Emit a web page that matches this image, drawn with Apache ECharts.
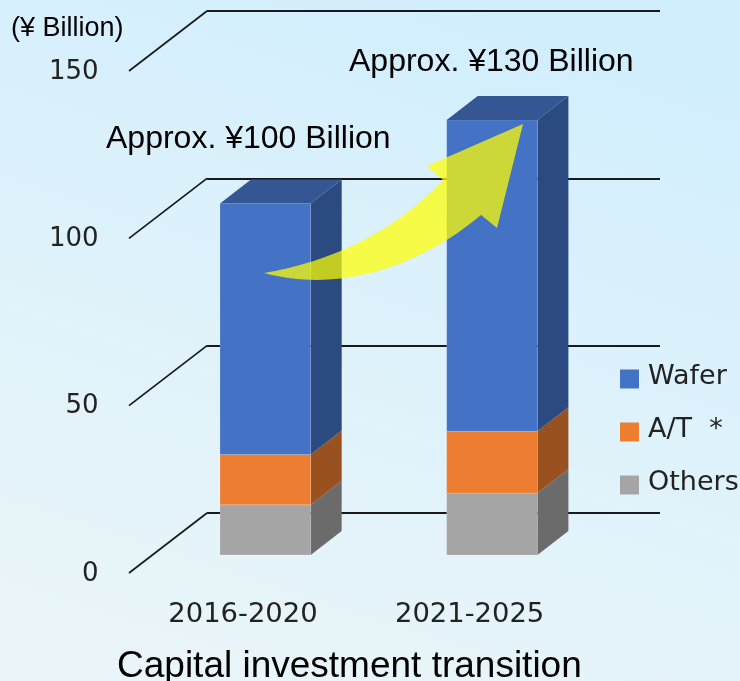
<!DOCTYPE html>
<html>
<head>
<meta charset="utf-8">
<style>
html, body { margin: 0; padding: 0; }
#chart { width: 740px; height: 681px; }
</style>
<script src="https://cdn.jsdelivr.net/npm/echarts@6/dist/echarts.min.js"></script>
</head>
<body>
<div id="chart"></div>
<script>
// values, in billions of yen
const categories = ['2016-2020', '2021-2025'];
const others = [15, 18.5];
const assembly = [15, 18.5];
const wafer = [75, 93];
const yTicks = [0, 50, 100, 150];
const legendNames = ['Wafer', 'A/T  *', 'Others'];

const sansFont = '"Liberation Sans", Arial, sans-serif';
const axisFont = '"DejaVu Sans", sans-serif';
// bars stand a bit behind the front plane of the axes
const pushX = 22.4;
const pushY = 18;
const depthX = 31;
const depthY = 24;

let myc = echarts.init(document.getElementById('chart'));

function barSeries(name, values, below, front, side, top) {
    return {
        name: name,
        type: 'custom',
        coordinateSystem: 'cartesian2d',
        xAxisIndex: 1,
        yAxisIndex: 1,
        z: 5,
        clip: false,
        silent: true,
        itemStyle: { color: front },
        data: values.map((v, i) => [i, below[i], below[i] + v]),
        renderItem: (params, api) => {
            let half = api.size([1, 0])[0] * 0.2;
            let a = api.coord([api.value(0), api.value(1)]);
            let b = api.coord([api.value(0), api.value(2)]);
            let l = a[0] + pushX - half, r = a[0] + pushX + half;
            let y0 = a[1] - pushY, y1 = b[1] - pushY;
            let edge = 'rgba(255,255,255,0.15)';
            let children = [
                {
                    type: 'polygon',
                    shape: { points: [[r, y0], [r + depthX, y0 - depthY], [r + depthX, y1 - depthY], [r, y1]] },
                    style: { fill: side }
                },
                {
                    type: 'rect',
                    shape: { x: l, y: y1, width: half * 2, height: y0 - y1 },
                    style: { fill: front, stroke: edge, lineWidth: 1 }
                }
            ];
            if (top) {
                children.push({
                    type: 'polygon',
                    shape: { points: [[l, y1], [l + depthX, y1 - depthY], [r + depthX, y1 - depthY], [r, y1]] },
                    style: { fill: top }
                });
            }
            return { type: 'group', children: children };
        }
    };
}

const zero = categories.map(() => 0);
const atBase = others.slice();
const waferBase = others.map((v, i) => v + assembly[i]);

let options = {
    animation: false,
    backgroundColor: new echarts.graphic.LinearGradient(0.65, 0, 0.35, 1, [
        { offset: 0, color: '#d1eefd' },
        { offset: 0.5, color: '#def2fb' },
        { offset: 1, color: '#e9f5f8' }
    ]),
    title: {
        text: 'Capital investment transition',
        left: 117,
        top: 648,
        padding: 0,
        textStyle: { fontFamily: sansFont, fontSize: 37, fontWeight: 'normal', color: '#000' }
    },
    legend: {
        data: legendNames,
        orient: 'vertical',
        left: 620,
        top: 363,
        padding: 0,
        icon: 'rect',
        itemWidth: 19,
        itemHeight: 19,
        itemGap: 26,
        formatter: '{t|{name}}',
        textStyle: {
            fontFamily: axisFont,
            fontSize: 27,
            color: '#222',
            rich: { t: { fontFamily: axisFont, fontSize: 27, color: '#222', padding: [0, 0, 5, 0] } },
            padding: [0, 0, 0, 4]
        }
    },
    grid: [
        // back wall
        { left: 207, top: 11, width: 453, height: 502 },
        // front plane, holds the tick labels and the bars
        { left: 129.6, top: 71, width: 453.4, height: 502 }
    ],
    xAxis: [
        { type: 'value', gridIndex: 0, min: 0, max: 1, show: false },
        {
            type: 'category',
            gridIndex: 1,
            data: categories,
            axisLine: { show: false },
            axisTick: { show: false },
            axisLabel: { margin: 28, fontFamily: axisFont, fontSize: 27.4, color: '#222' }
        }
    ],
    yAxis: [
        {
            type: 'value', gridIndex: 0, min: 0, max: 150, interval: 50,
            axisLine: { show: false }, axisTick: { show: false }, axisLabel: { show: false },
            splitLine: { lineStyle: { color: '#1a1a1a', width: 2 } }
        },
        {
            type: 'value', gridIndex: 1, min: 0, max: 150, interval: 50,
            axisLine: { show: false }, axisTick: { show: false }, splitLine: { show: false },
            axisLabel: {
                margin: 31,
                formatter: '{t|{value}}',
                rich: { t: { fontFamily: axisFont, fontSize: 26, color: '#222', padding: [2, 0, 0, 0] } }
            }
        }
    ],
    series: [
        {
            // the slanted lines from the tick labels up to the wall
            type: 'custom',
            coordinateSystem: 'cartesian2d',
            xAxisIndex: 0,
            yAxisIndex: 0,
            z: 2,
            clip: false,
            silent: true,
            data: yTicks.map(v => [0, v]),
            renderItem: (params, api) => {
                let p = api.coord([0, api.value(1)]);
                return {
                    type: 'line',
                    shape: { x1: p[0] - 78, y1: p[1] + 60, x2: p[0], y2: p[1] },
                    style: { stroke: '#1a1a1a', lineWidth: 1.7 }
                };
            }
        },
        barSeries('Others', others, zero, '#A5A5A5', '#6B6B6B'),
        barSeries('A/T  *', assembly, atBase, '#ED7D31', '#98511F'),
        barSeries('Wafer', wafer, waferBase, '#4472C4', '#2A4A80', '#345794'),
        {
            // big yellow arrow
            type: 'custom',
            coordinateSystem: 'cartesian2d',
            xAxisIndex: 0,
            yAxisIndex: 0,
            z: 10,
            clip: false,
            silent: true,
            data: [[0, 0]],
            renderItem: () => ({
                type: 'path',
                shape: { pathData: 'M264 273C330 262 395 232 443 180L427 166L523 124L497 228L481 215C430 258 350 296 264 273Z' },
                style: { fill: 'rgba(255,255,0,0.72)' }
            })
        }
    ],
    graphic: [
        { type: 'text', left: 11, top: 15, z: 20, style: { text: '(¥ Billion)', font: '27px ' + sansFont, fill: '#000' } },
        { type: 'text', left: 106, top: 123, z: 20, style: { text: 'Approx. ¥100 Billion', font: '32px ' + sansFont, fill: '#000' } },
        { type: 'text', left: 349, top: 46, z: 20, style: { text: 'Approx. ¥130 Billion', font: '32px ' + sansFont, fill: '#000' } }
    ]
};
myc.setOption(options);
</script>
</body>
</html>
